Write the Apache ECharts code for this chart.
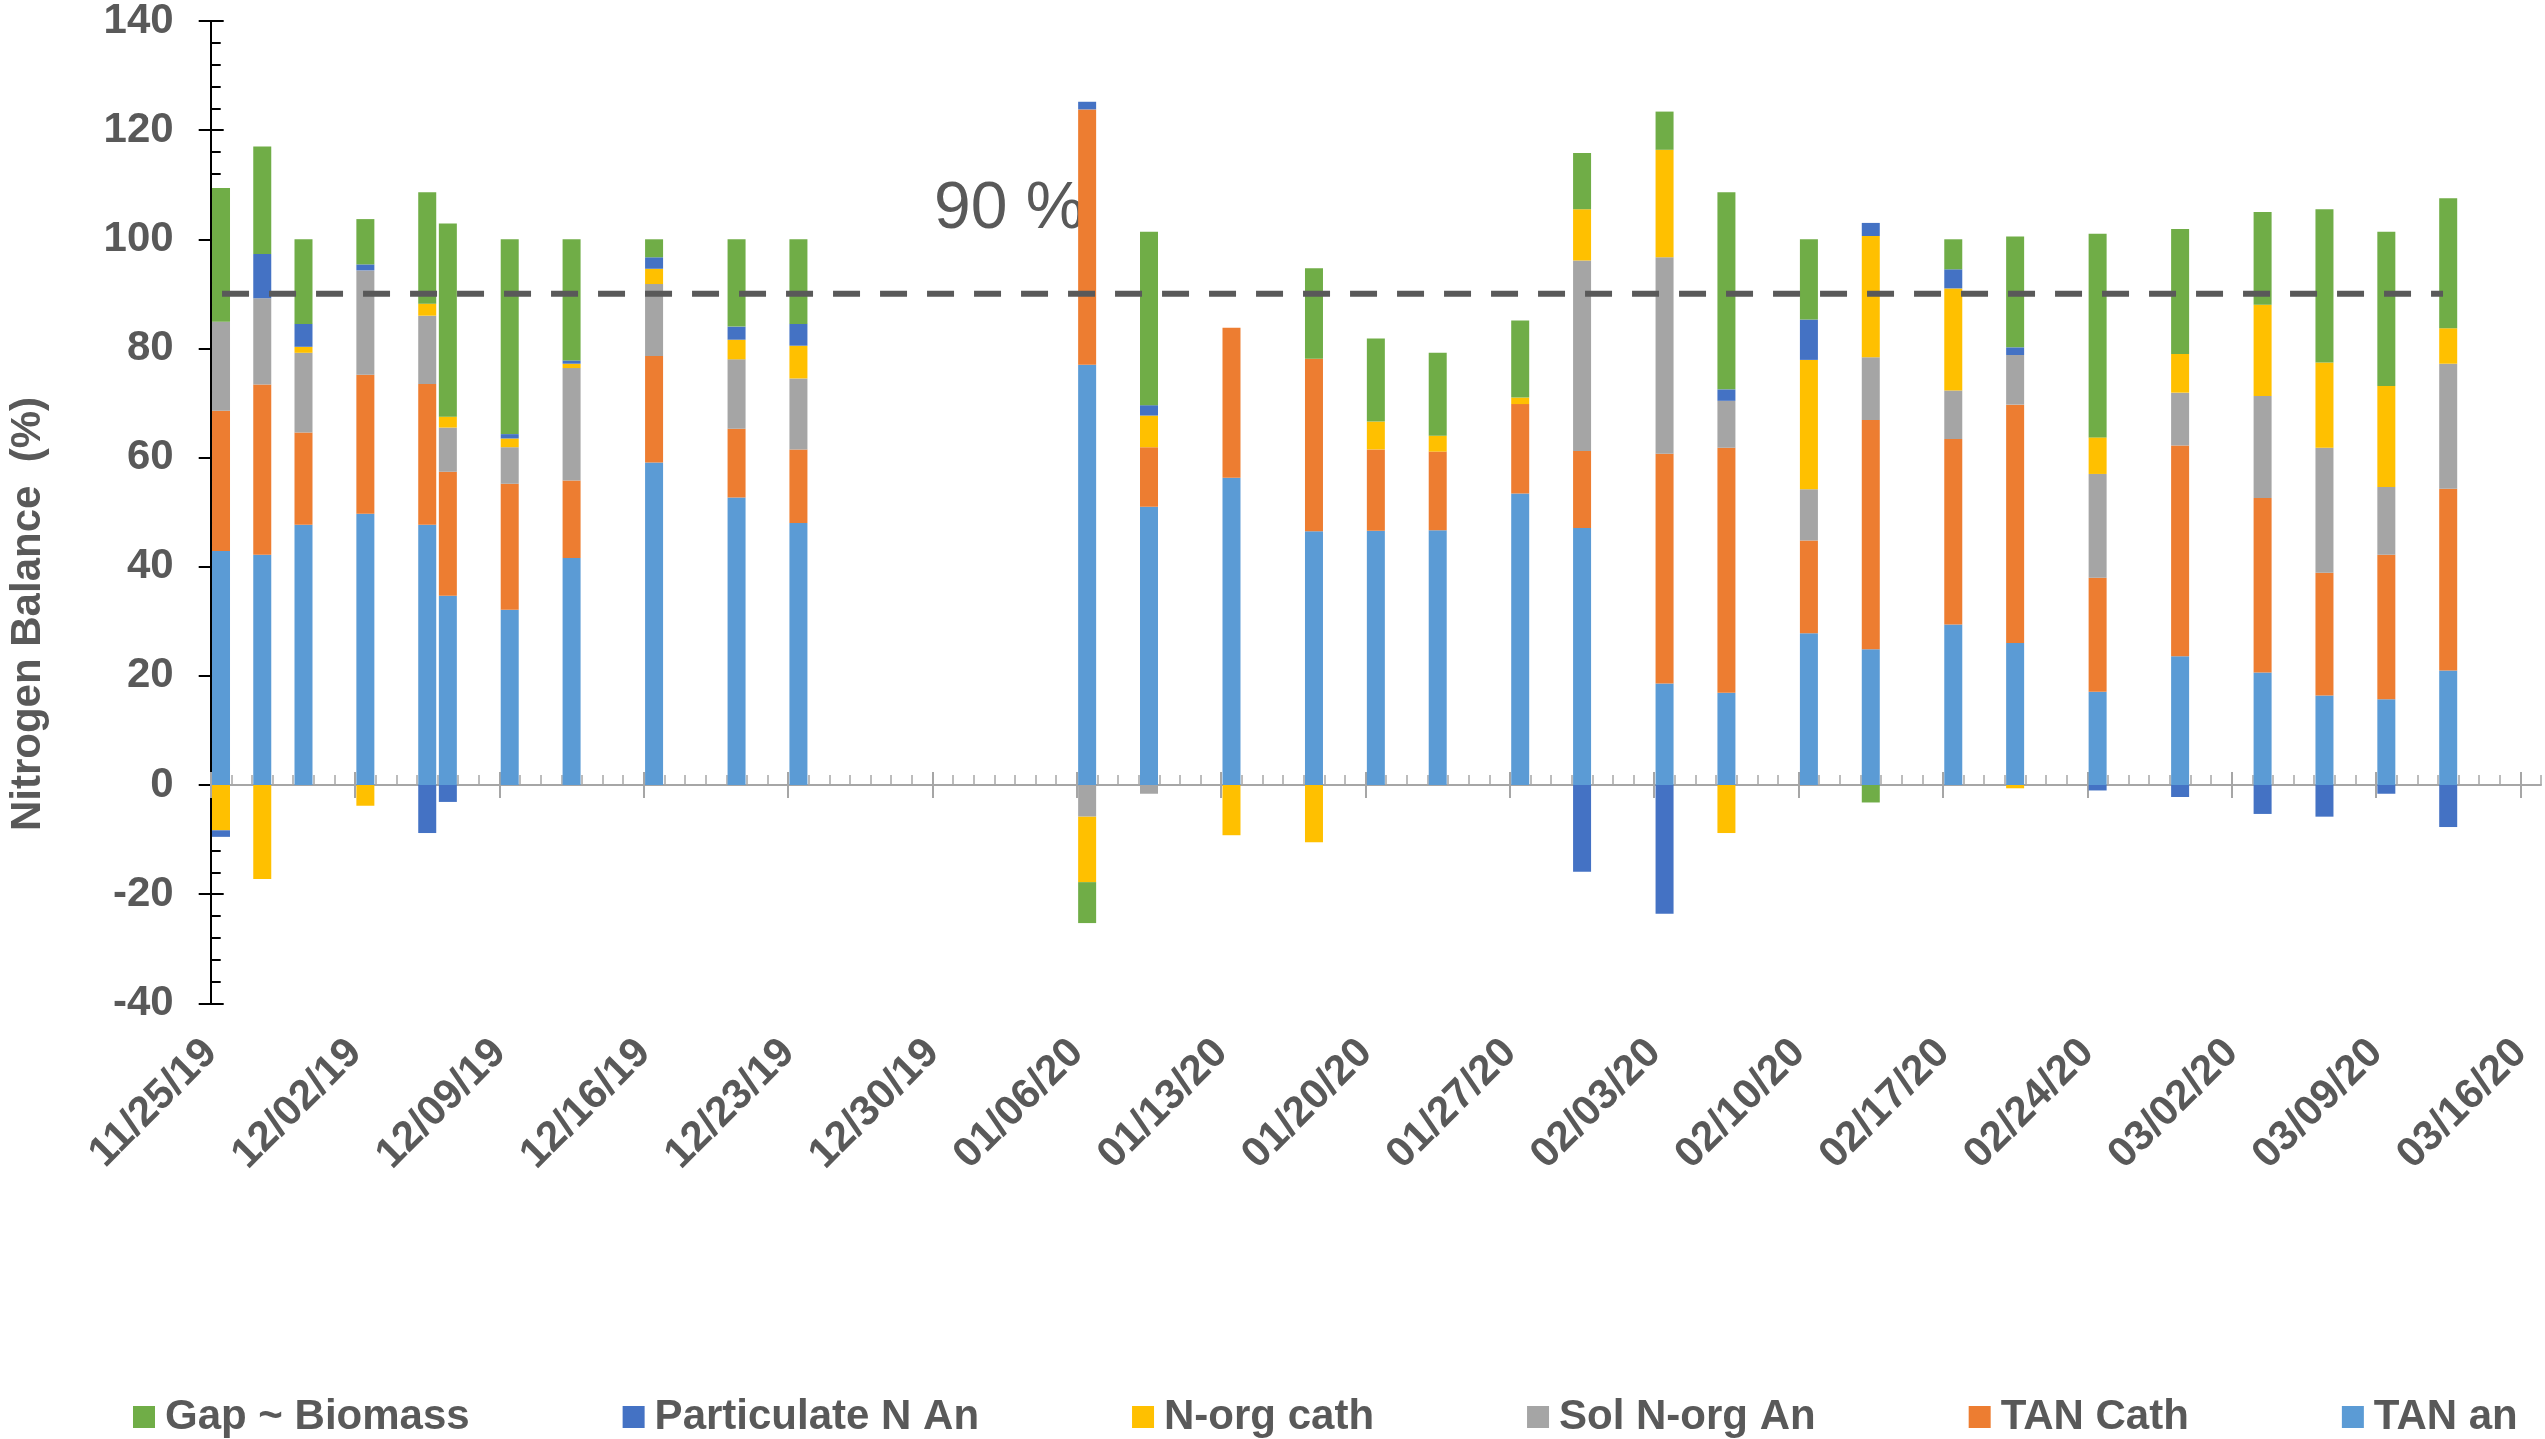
<!DOCTYPE html>
<html>
<head>
<meta charset="utf-8">
<title>Nitrogen Balance</title>
<script src="https://cdn.jsdelivr.net/npm/echarts@6/dist/echarts.min.js"></script>
<style>
  html, body { margin: 0; padding: 0; background: #ffffff; }
  #chart { width: 2545px; height: 1439px; }
</style>
</head>
<body>
<div id="chart"></div>
<script>
// Sampling dates (one stacked bar per date)
const dates = ['2019-11-25','2019-11-27','2019-11-29','2019-12-02','2019-12-05','2019-12-06','2019-12-09',
  '2019-12-12','2019-12-16','2019-12-20','2019-12-23','2020-01-06','2020-01-09','2020-01-13','2020-01-17',
  '2020-01-20','2020-01-23','2020-01-27','2020-01-30','2020-02-03','2020-02-06','2020-02-10','2020-02-13',
  '2020-02-17','2020-02-20','2020-02-24','2020-02-28','2020-03-03','2020-03-06','2020-03-09','2020-03-12'];

// Nitrogen balance terms (% of N input)
const tanAn = [42.9, 42.2, 47.7, 49.7, 47.7, 34.7, 32.1, 41.6, 59.1, 52.7, 48.0, 77.0, 51.0, 56.3, 46.5, 46.6,
  46.7, 53.4, 47.1, 18.6, 16.9, 27.8, 24.9, 29.4, 26.0, 17.1, 23.6, 20.6, 16.4, 15.7, 21.0];
const tanCath = [25.7, 31.2, 16.9, 25.5, 25.8, 22.7, 23.1, 14.2, 19.5, 12.6, 13.5, 46.8, 10.9, 27.5, 31.6, 14.9,
  14.4, 16.4, 14.1, 42.1, 44.9, 17.0, 42.0, 34.0, 43.7, 20.9, 38.6, 32.0, 22.5, 26.5, 33.3];
const solNorgAn = [16.3, 15.8, 14.6, 19.1, 12.5, 8.1, 6.7, 20.6, 13.2, 12.7, 13.0, -5.8, -1.6, 0, 0, 0,
  0, 0, 34.9, 36.0, 8.6, 9.4, 11.5, 8.9, 9.1, 19.0, 9.7, 18.7, 22.9, 12.4, 22.9];
const nOrgCath = [-8.3, -17.2, 1.1, -3.8, 2.2, 2.0, 1.6, 0.8, 2.8, 3.6, 6.0, -12.0, 5.8, -9.2, -10.5, 5.1,
  2.9, 1.2, 9.4, 19.7, -8.8, 23.7, 22.2, 18.7, -0.6, 6.7, 7.1, 16.7, 15.6, 18.5, 6.5];
const particulateNAn = [-1.2, 8.1, 4.2, 1.1, -8.8, -3.1, 0.8, 0.6, 2.1, 2.4, 4.0, 1.4, 1.9, 0, 0, 0,
  0, 0, -15.9, -23.6, 2.1, 7.4, 2.4, 3.5, 1.4, -1.0, -2.2, -5.3, -5.8, -1.6, -7.7];
const gapBiomass = [24.5, 19.7, 15.5, 8.3, 20.4, 35.4, 35.7, 22.2, 3.3, 16.0, 15.5, -7.5, 31.8, 0, 16.6, 15.2,
  15.2, 14.1, 10.3, 7.0, 36.1, 14.7, -3.2, 5.5, 20.3, 37.3, 22.9, 17.0, 28.1, 28.3, 23.8];

// 90 % reference level and the date span it covers
const targetLevel = 90;
const targetSpan = ['2019-11-25', '2020-03-12'];
const targetLabel = '90 %';

// Axis settings
const axisStart = '2019-11-25';
const axisEnd = '2020-03-17';
const yTicks = { min: -40, max: 140, step: 20 };
const yTitle = 'Nitrogen Balance  (%)';

const DAY = 86400000;
const t0 = Date.parse(axisStart);
const dayOf = d => (Date.parse(d) - t0) / DAY;
const lastDay = dayOf(axisEnd);

// One category slot per calendar day, so bars sit in the middle of their day
const isoDay = t => new Date(t).toISOString().slice(0, 10);
const daySlots = [];
for (let d = 0; d < lastDay; d++) daySlots.push(isoDay(t0 + d * DAY));

// Tick positions in days from the start
const weekTicks = [];
for (let d = 0; d < lastDay; d += 7) weekTicks.push(d);
const dayTicks = [];
for (let d = 0; d <= lastDay; d++) dayTicks.push(d);

const pad2 = n => (n < 10 ? '0' : '') + n;
function fmtDate(v) {
  const dt = new Date(t0 + Math.round(v) * DAY);
  return pad2(dt.getUTCMonth() + 1) + '/' + pad2(dt.getUTCDate()) + '/' + pad2(dt.getUTCFullYear() % 100);
}

const FONT = '"Liberation Sans", Arial, Helvetica, sans-serif';
const TEXT = '#595959';

const pairs = vals => vals.map((v, i) => [dates[i], v]);

const seriesDefs = [
  { name: 'TAN an', data: tanAn, color: '#5B9BD5' },
  { name: 'TAN Cath', data: tanCath, color: '#ED7D31' },
  { name: 'Sol N-org An', data: solNorgAn, color: '#A5A5A5' },
  { name: 'N-org cath', data: nOrgCath, color: '#FFC000' },
  { name: 'Particulate N An', data: particulateNAn, color: '#4472C4' },
  { name: 'Gap ~ Biomass', data: gapBiomass, color: '#70AD47' }
];

const barSeries = seriesDefs.map(s => ({
  name: s.name,
  type: 'bar',
  stack: 'balance',
  stackStrategy: 'samesign',
  xAxisIndex: 0,
  yAxisIndex: 0,
  barWidth: 18,
  itemStyle: { color: s.color, borderWidth: 0 },
  emphasis: { disabled: true },
  data: pairs(s.data)
}));

const targetSeries = {
  name: 'target',
  type: 'line',
  xAxisIndex: 1,
  yAxisIndex: 0,
  showSymbol: false,
  silent: true,
  z: 10,
  lineStyle: { color: '#595959', width: 6, type: [27, 20], cap: 'butt' },
  data: [[dayOf(targetSpan[0]) + 0.55, targetLevel], [dayOf(targetSpan[1]) + 0.25, targetLevel]]
};

const dayAxis = { type: 'value', min: 0, max: lastDay, splitLine: { show: false }, axisLabel: { show: false } };
const yBase = { type: 'value', min: yTicks.min, max: yTicks.max, interval: yTicks.step, splitLine: { show: false } };
const tickGrey = '#A6A6A6';

const option = {
  backgroundColor: '#ffffff',
  animation: false,
  grid: { left: 210.7, right: 4, top: 20.7, bottom: 435.7, containLabel: false },
  legend: {
    data: ['Gap ~ Biomass', 'Particulate N An', 'N-org cath', 'Sol N-org An', 'TAN Cath', 'TAN an'],
    left: 133,
    top: 1396,
    padding: 0,
    icon: 'rect',
    itemWidth: 22,
    itemHeight: 22,
    itemGap: 153,
    selectedMode: false,
    textStyle: { fontFamily: FONT, fontSize: 42, fontWeight: 'bold', color: TEXT, padding: [0, 0, 0, 5] }
  },
  xAxis: [
    // day slots carrying the bars
    {
      type: 'category',
      data: daySlots,
      boundaryGap: true,
      show: false,
      position: 'bottom'
    },
    // zero line with weekly ticks going down
    Object.assign({}, dayAxis, {
      position: 'bottom',
      axisLine: { show: true, onZero: true, onZeroAxisIndex: 0, lineStyle: { color: tickGrey, width: 2 } },
      axisTick: { show: true, inside: false, length: 13, customValues: weekTicks, lineStyle: { color: tickGrey, width: 2 } }
    }),
    // weekly ticks going up
    Object.assign({}, dayAxis, {
      position: 'bottom',
      axisLine: { show: false, onZero: true, onZeroAxisIndex: 0 },
      axisTick: { show: true, inside: true, length: 13, customValues: weekTicks, lineStyle: { color: tickGrey, width: 2 } }
    }),
    // daily minor ticks
    Object.assign({}, dayAxis, {
      position: 'bottom',
      axisLine: { show: false, onZero: true, onZeroAxisIndex: 0 },
      axisTick: { show: true, inside: true, length: 10, customValues: dayTicks, lineStyle: { color: tickGrey, width: 1.5 } }
    }),
    // date labels along the bottom of the plot
    Object.assign({}, dayAxis, {
      position: 'bottom',
      axisLine: { show: false, onZero: false },
      axisTick: { show: false },
      axisLabel: {
        show: true,
        customValues: weekTicks,
        rotate: 45,
        margin: 43,
        fontFamily: FONT,
        fontSize: 42,
        fontWeight: 'bold',
        color: TEXT,
        formatter: fmtDate
      }
    })
  ],
  yAxis: [
    Object.assign({}, yBase, {
      position: 'left',
      axisLine: { show: true, onZero: false, lineStyle: { color: '#000000', width: 2 } },
      axisTick: { show: true, inside: true, length: 13, lineStyle: { color: '#000000', width: 2 } },
      minorTick: { show: true, splitNumber: 5, length: 10, lineStyle: { color: '#000000', width: 2 } },
      axisLabel: { show: true, margin: 37, fontFamily: FONT, fontSize: 42, fontWeight: 'bold', color: TEXT }
    }),
    Object.assign({}, yBase, {
      position: 'left',
      axisLine: { show: false, onZero: false },
      axisTick: { show: true, inside: false, length: 12, lineStyle: { color: '#000000', width: 2 } },
      axisLabel: { show: false }
    })
  ],
  graphic: [
    {
      type: 'text',
      x: 28,
      y: 614,
      rotation: Math.PI / 2,
      silent: true,
      style: { text: yTitle, fontFamily: FONT, fontSize: 42, fontWeight: 'bold', fill: TEXT, align: 'center', verticalAlign: 'middle' }
    },
    {
      type: 'text',
      x: 934,
      y: 210,
      silent: true,
      style: { text: targetLabel, fontFamily: FONT, fontSize: 66, fontWeight: 'normal', fill: TEXT, align: 'left', verticalAlign: 'middle' }
    }
  ],
  series: barSeries.concat([targetSeries])
};

const chart = echarts.init(document.getElementById('chart'), null, { renderer: 'canvas', width: 2545, height: 1439 });
chart.setOption(option);
</script>
</body>
</html>
